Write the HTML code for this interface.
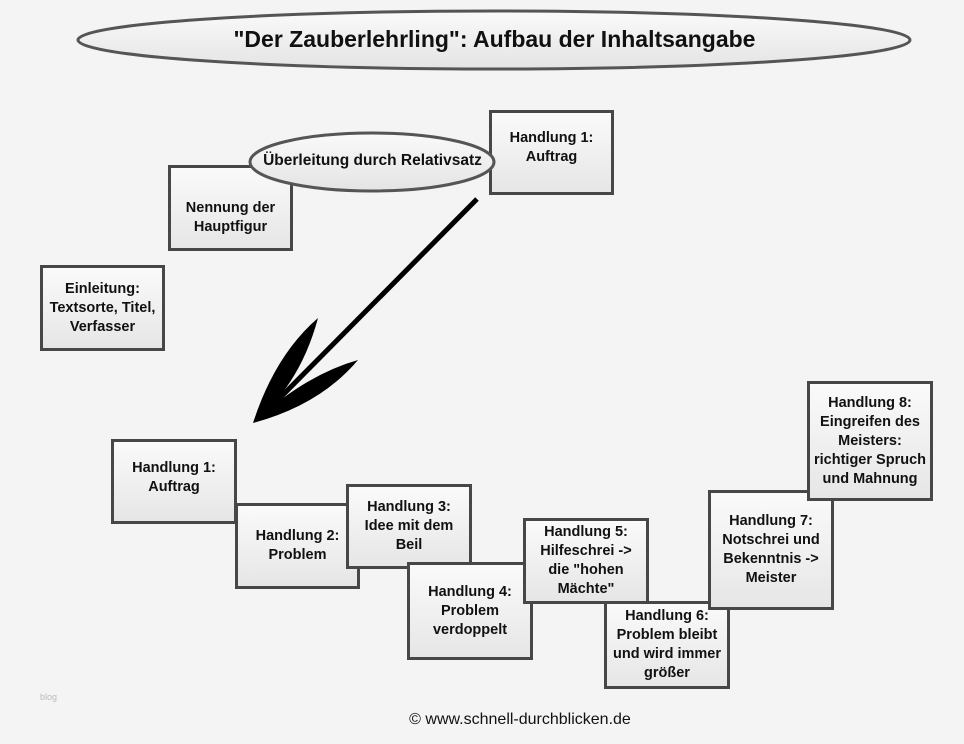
<!DOCTYPE html>
<html><head><meta charset="utf-8"><style>
body{margin:0;width:964px;height:744px;background:#f4f4f4;position:relative;overflow:hidden;font-family:"Liberation Sans",sans-serif}
.b{position:absolute;box-sizing:border-box;border:3px solid #474747;background:linear-gradient(#fafafa,#e6e6e6);display:flex;align-items:center;justify-content:center;text-align:center;font-weight:bold;font-size:14.5px;line-height:19px;color:#111}
.t{position:absolute;font-weight:bold;text-align:center;color:#111}
</style></head><body>
<svg width="964" height="744" style="position:absolute;left:0;top:0">
<defs><linearGradient id="g" x1="0" y1="0" x2="0" y2="1"><stop offset="0" stop-color="#fafafa"/><stop offset="1" stop-color="#e4e4e4"/></linearGradient></defs>
<ellipse cx="494" cy="40" rx="416" ry="29" fill="url(#g)" stroke="#555" stroke-width="3"/>
</svg>
<div class="t" style="left:77px;top:26px;width:835px;font-size:23px">"Der Zauberlehrling": Aufbau der Inhaltsangabe</div>
<div class="b" style="left:40px;top:265px;width:125px;height:86px">Einleitung:<br>Textsorte, Titel,<br>Verfasser</div>
<div class="b" style="left:168px;top:165px;width:125px;height:86px;padding-top:20px">Nennung der<br>Hauptfigur</div>
<div class="b" style="left:489px;top:110px;width:125px;height:85px;padding-bottom:10px">Handlung 1:<br>Auftrag</div>
<svg width="964" height="744" style="position:absolute;left:0;top:0">
<ellipse cx="372" cy="162" rx="122" ry="29" fill="url(#g)" stroke="#555" stroke-width="3"/>
<line x1="477" y1="199" x2="262" y2="416" stroke="#000" stroke-width="5"/>
<path d="M253,423 Q275,355 318,318 Q300,385 253,423 Z" fill="#000"/>
<path d="M253,423 Q305,375 358,360 Q320,405 253,423 Z" fill="#000"/>
</svg>
<div class="t" style="left:250px;top:152px;width:245px;font-size:15.5px">Überleitung durch Relativsatz</div>
<div class="b" style="left:111px;top:439px;width:126px;height:85px;padding-bottom:8px">Handlung 1:<br>Auftrag</div>
<div class="b" style="left:235px;top:503px;width:125px;height:86px">Handlung 2:<br>Problem</div>
<div class="b" style="left:346px;top:484px;width:126px;height:85px">Handlung 3:<br>Idee mit dem<br>Beil</div>
<div class="b" style="left:407px;top:562px;width:126px;height:98px">Handlung 4:<br>Problem<br>verdoppelt</div>
<div class="b" style="left:523px;top:518px;width:126px;height:86px">Handlung 5:<br>Hilfeschrei -&gt;<br>die "hohen<br>Mächte"</div>
<div class="b" style="left:604px;top:601px;width:126px;height:88px">Handlung 6:<br>Problem bleibt<br>und wird immer<br>größer</div>
<div class="b" style="left:708px;top:490px;width:126px;height:120px">Handlung 7:<br>Notschrei und<br>Bekenntnis -&gt;<br>Meister</div>
<div class="b" style="left:807px;top:381px;width:126px;height:120px">Handlung 8:<br>Eingreifen des<br>Meisters:<br>richtiger Spruch<br>und Mahnung</div>
<div style="position:absolute;left:40px;top:692px;font-size:9px;color:#bbb">blog</div>
<div style="position:absolute;left:360px;top:711px;width:320px;text-align:center;font-size:16px;color:#111">© www.schnell-durchblicken.de</div>
</body></html>
